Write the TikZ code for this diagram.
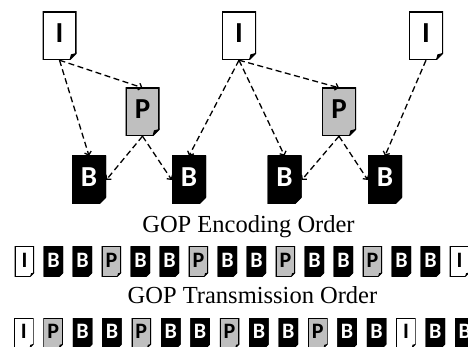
\documentclass[tikz,border=0pt]{standalone}
\usepackage{fontspec}
\setmainfont{Liberation Serif}
\newfontfamily\lettfont{Carlito}
\usetikzlibrary{arrows.meta}
\tikzset{
  frame/.style n args={4}{shape=rectangle, inner sep=0pt, fill=white, text=#4,
    path picture={
      \fill[#1] (path picture bounding box.north west) -- (path picture bounding box.north east) -- ([yshift=#2]path picture bounding box.south east) -- ([xshift=-#2]path picture bounding box.south east) -- (path picture bounding box.south west) -- cycle;
      \draw[line width=2*#3, line join=miter] ([yshift=#2]path picture bounding box.south east) -- (path picture bounding box.north east) -- (path picture bounding box.north west) -- (path picture bounding box.south west) -- ([xshift=-#2]path picture bounding box.south east);
      \draw[line width=#3] ([yshift=#2]path picture bounding box.south east) -- ([xshift=-#2]path picture bounding box.south east);
      \fill[black] ([xshift=-#2]path picture bounding box.south east) -- ([yshift=#2]path picture bounding box.south east) -- ([xshift=-0.8*#2, yshift=0.8*#2]path picture bounding box.south east) -- cycle;}},
  big/.style={minimum width=34pt, minimum height=48pt, text height=12.7pt, text depth=0pt,
    font=\lettfont\bfseries\fontsize{29}{29}\selectfont},
  small/.style={minimum width=19.5pt, minimum height=30pt, text height=11pt, text depth=0pt,
    font=\lettfont\bfseries\fontsize{22}{22}\selectfont},
  bI/.style={big, frame={white}{7pt}{1.1pt}{black}},
  bP/.style={big, frame={gray!50}{7pt}{1.1pt}{black}},
  bB/.style={big, frame={black}{7pt}{1.1pt}{white}},
  sI/.style={small, frame={white}{4pt}{0.9pt}{black}},
  sP/.style={small, frame={gray!50}{4pt}{0.9pt}{black}},
  sB/.style={small, frame={black}{4pt}{0.9pt}{white}},
  ref/.style={draw, line width=1.3pt, dash pattern=on 6pt off 3.5pt,
    -{Straight Barb[length=3pt,width=7pt]}},
  title/.style={anchor=base, inner sep=0pt, font=\fontsize{24.5}{28}\selectfont}
}
\begin{document}
\begin{tikzpicture}[x=1pt,y=-1pt]
\useasboundingbox (0,0) rectangle (468,347);
% top structure
\node[bI] (i1) at (59.5,36) {I};
\node[bI] (i2) at (239,36) {I};
\node[bI] (i3) at (426,36) {I};
\node[bP] (p1) at (142.5,112) {P};
\node[bP] (p2) at (339,112) {P};
\node[bB] (b1) at (89,180) {B};
\node[bB] (b2) at (189,180) {B};
\node[bB] (b3) at (284.5,180) {B};
\node[bB] (b4) at (385,180) {B};
\draw[ref] (i1.south) -- (p1.north);
\draw[ref] (i1.south) -- (b1.north);
\draw[ref] (p1.south) -- (b1.east);
\draw[ref] (p1.south) -- (b2.west);
\draw[ref] (i2.south) -- (b2.north);
\draw[ref] (i2.south) -- (p2.north);
\draw[ref] (i2.south) -- (b3.north);
\draw[ref] (p2.south) -- (b3.east);
\draw[ref] (p2.south) -- (b4.west);
\draw[ref] (i3.south) -- (b4.north);
% titles
\node[title] (enc) at (248.5,233) {GOP Encoding Order};
\node[title] (trn) at (252.5,303) {GOP Transmission Order};
% rows
\foreach \k [count=\i] in {I,B,B,P,B,B,P,B,B,P,B,B,P,B,B,I} {
  \edef\mydocnode{\noexpand\node[s\k] (e\i) at ({-4.55+29*\i},261.5) {\k};}
  \mydocnode
}
\foreach \k [count=\i] in {I,P,B,B,P,B,B,P,B,B,P,B,B,I,B,B} {
  \edef\mydocnode{\noexpand\node[s\k] (t\i) at ({-5.65+29.4*\i},333) {\k};}
  \mydocnode
}
\end{tikzpicture}
\end{document}
